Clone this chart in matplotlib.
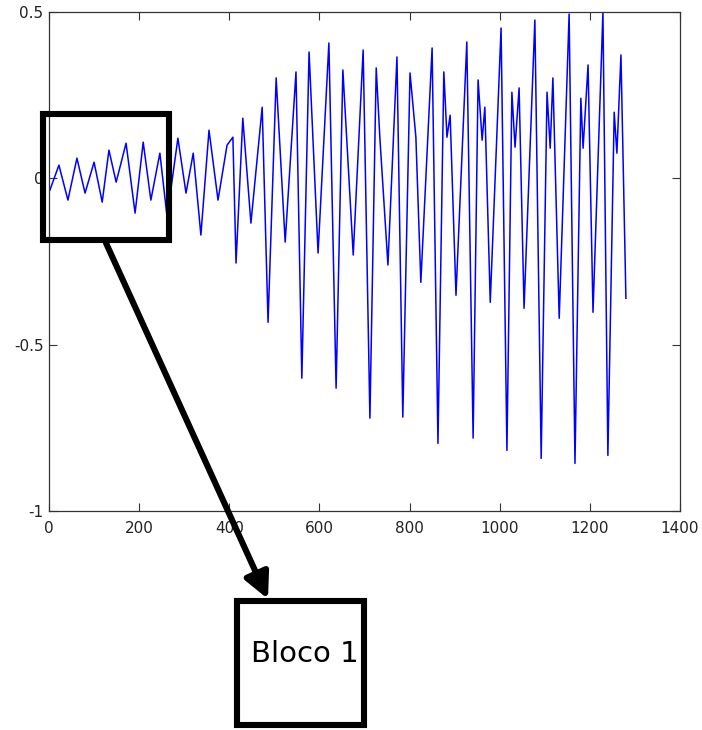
import matplotlib
matplotlib.use("Agg")

import matplotlib.pyplot as plt
from matplotlib.patches import Rectangle, FancyArrowPatch

# local extrema of the waveform (sample index, amplitude)
samples = [2, 22, 42, 62, 80, 100, 118, 133, 149, 171, 191, 209, 226, 246, 262,
           286, 304, 320, 337, 355, 375, 395, 408, 415, 430, 448, 473, 486, 504,
           524, 548, 561, 577, 597, 621, 637, 652, 675, 697, 712, 726, 734, 752,
           772, 785, 801, 814, 825, 850, 863, 876, 883, 890, 903, 927, 941, 952,
           961, 967, 979, 1003, 1016, 1027, 1034, 1043, 1054, 1078, 1092, 1105,
           1112, 1118, 1132, 1154, 1167, 1180, 1185, 1196, 1207, 1229, 1240, 1254,
           1260, 1269, 1280]
amplitude = [-0.036, 0.039, -0.066, 0.060, -0.045, 0.048, -0.072, 0.084, -0.012,
             0.105, -0.105, 0.108, -0.066, 0.075, -0.117, 0.120, -0.045, 0.075,
             -0.171, 0.144, -0.066, 0.099, 0.123, -0.255, 0.180, -0.135, 0.213,
             -0.433, 0.301, -0.192, 0.319, -0.601, 0.379, -0.225, 0.406, -0.631,
             0.325, -0.231, 0.385, -0.721, 0.331, 0.123, -0.261, 0.364, -0.718,
             0.316, 0.123, -0.313, 0.391, -0.797, 0.319, 0.123, 0.189, -0.352,
             0.409, -0.781, 0.295, 0.114, 0.213, -0.373, 0.451, -0.818, 0.258,
             0.093, 0.271, -0.391, 0.475, -0.842, 0.258, 0.090, 0.301, -0.421,
             0.493, -0.857, 0.240, 0.090, 0.340, -0.403, 0.499, -0.833, 0.198,
             0.075, 0.370, -0.361]

x_ticks = [0, 200, 400, 600, 800, 1000, 1200, 1400]
y_ticks = [-1, -0.5, 0, 0.5]
y_ticklabels = ["-1", "-0.5", "0", "0.5"]
block_label = "Bloco 1"
block_span = (-13, 266, -0.186, 0.192)   # x0, x1, y0, y1 of the highlighted block

W, H = 702, 730
fig = plt.figure(figsize=(W / 100, H / 100), dpi=100)
ax = fig.add_axes([49 / W, 1 - 511 / H, (680 - 49) / W, (511 - 11.7) / H])

ax.plot(samples, amplitude, color=(0, 0, 1), lw=1.1)

ax.set_xlim(0, 1400)
ax.set_ylim(-1, 0.5)
ax.set_xticks(x_ticks)
ax.set_yticks(y_ticks)
ax.set_yticklabels(y_ticklabels)
ax.tick_params(direction="in", length=6, width=0.8, colors="#333333",
               labelsize=11, top=True, right=True)
ax.tick_params(axis="x", pad=7)
ax.tick_params(axis="y", pad=4)
for lab in ax.get_xticklabels() + ax.get_yticklabels():
    lab.set_family("DejaVu Sans")
    lab.set_color("#222222")
for s in ax.spines.values():
    s.set_color("#333333")
    s.set_linewidth(0.9)

# highlighted block
x0, x1, y0, y1 = block_span
ax.add_patch(Rectangle((x0, y0), x1 - x0, y1 - y0, fill=False, ec="black",
                       lw=4.4, clip_on=False, zorder=5, joinstyle="miter"))

# arrow down to the label box (figure pixels)
arrow = FancyArrowPatch((106, H - 243), (268, H - 599), transform=None,
                        arrowstyle="-|>,head_length=0.9,head_width=0.45",
                        mutation_scale=17, lw=4.4, color="black", zorder=6,
                        shrinkA=0, shrinkB=0)
fig.add_artist(arrow)

fig.add_artist(Rectangle((237 / W, 5 / H), 127 / W, 124 / H, fill=False,
                         ec="black", lw=4.4, transform=fig.transFigure,
                         joinstyle="miter"))
fig.text(305 / W, 76 / H, block_label, fontsize=21, family="DejaVu Sans",
         ha="center", va="center")

fig.savefig("out.png", dpi=100)
